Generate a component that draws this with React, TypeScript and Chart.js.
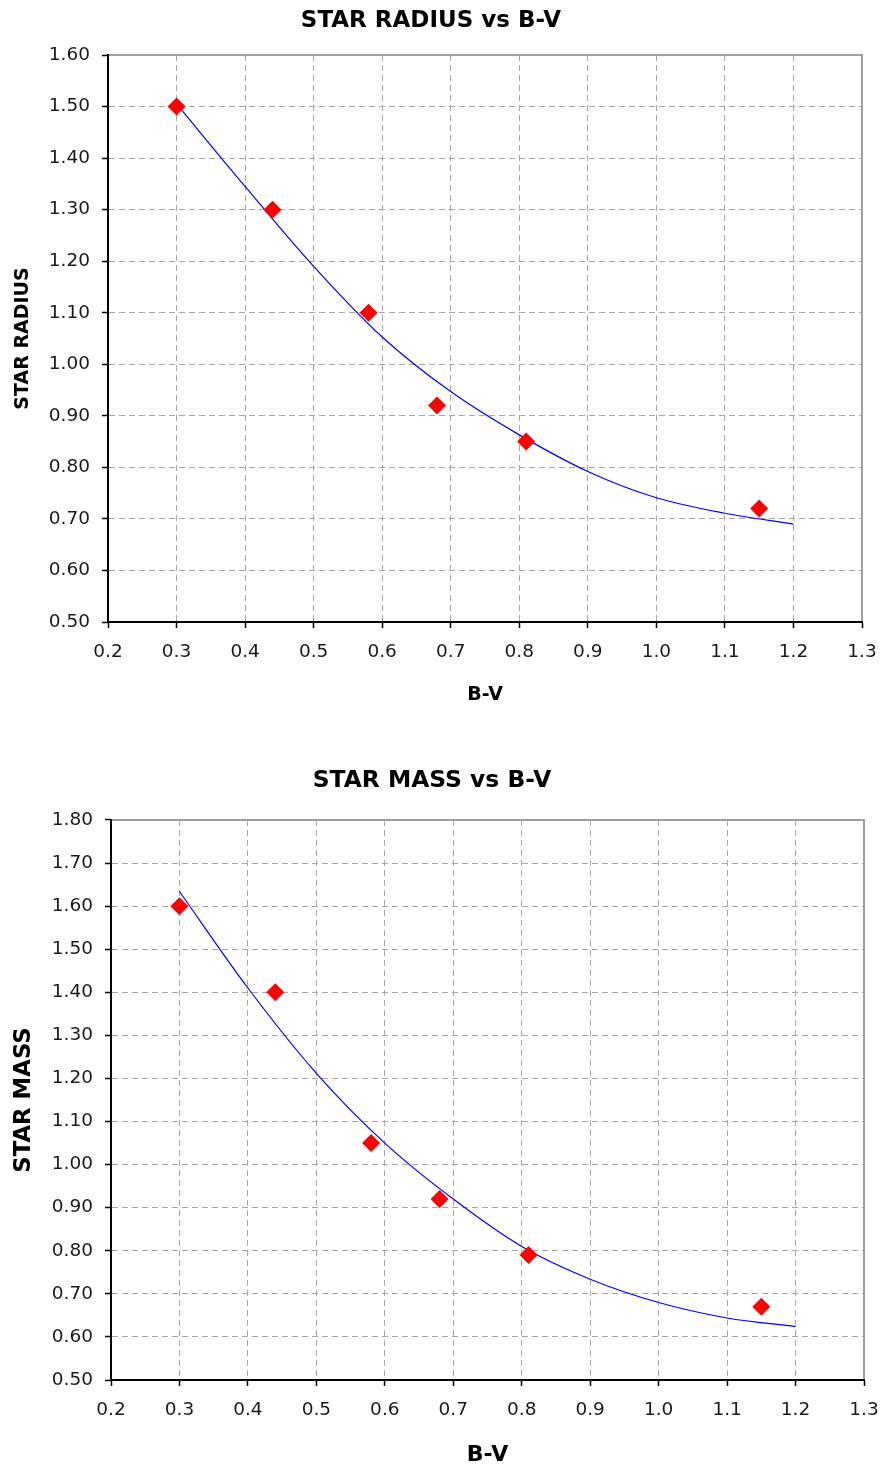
import React, { useEffect, useRef } from "react";
import { Chart, registerables } from "chart.js";

Chart.register(...registerables);

// ---- data ----
const X_TICKS = [0.2, 0.3, 0.4, 0.5, 0.6, 0.7, 0.8, 0.9, 1.0, 1.1, 1.2, 1.3];
const RADIUS_Y_TICKS = [0.5, 0.6, 0.7, 0.8, 0.9, 1.0, 1.1, 1.2, 1.3, 1.4, 1.5, 1.6];
const MASS_Y_TICKS = [0.5, 0.6, 0.7, 0.8, 0.9, 1.0, 1.1, 1.2, 1.3, 1.4, 1.5, 1.6, 1.7, 1.8];

const BV_RADIUS = [0.3, 0.44, 0.58, 0.68, 0.81, 1.15];
const RADIUS = [1.5, 1.3, 1.1, 0.92, 0.85, 0.72];

const BV_MASS = [0.3, 0.44, 0.58, 0.68, 0.81, 1.15];
const MASS = [1.6, 1.4, 1.05, 0.92, 0.79, 0.67];

const TREND_X = [0.3, 0.4, 0.5, 0.6, 0.7, 0.8, 0.9, 1.0, 1.1, 1.2];
const RADIUS_TREND = [1.505, 1.345, 1.19, 1.053, 0.947, 0.863, 0.792, 0.741, 0.711, 0.69];
const MASS_TREND = [1.634, 1.41, 1.212, 1.05, 0.92, 0.81, 0.734, 0.68, 0.644, 0.624];

const FONT = "'DejaVu Sans', Verdana, sans-serif";

const framePlugin = {
  id: "frame",
  beforeDatasetsDraw(chart: any) {
    const { ctx, chartArea } = chart;
    const { left, top, right, bottom } = chartArea;
    ctx.save();
    ctx.strokeStyle = "#a0a0a0";
    ctx.lineWidth = 2;
    ctx.beginPath();
    ctx.moveTo(left + 1, top);
    ctx.lineTo(right, top);
    ctx.lineTo(right, bottom - 1);
    ctx.stroke();
    ctx.restore();
  },
};

interface Cfg {
  title: string;
  titleSize: number;
  titlePadTop: number;
  titlePadBottom: number;
  yTitle: string;
  yTitleSize: number;
  yTitlePad: number;
  xTitleSize: number;
  xTitlePad: number;
  yTicks: number[];
  xs: number[];
  ys: number[];
  trend: number[];
  yWidth: number;
  xHeight: number;
  padRight: number;
}

function buildChart(canvas: HTMLCanvasElement, c: Cfg) {
  const grid = {
    color: "#a8a8a8",
    lineWidth: 1,
    tickColor: "#000",
    tickLength: 6,
    tickWidth: 1.5,
    tickBorderDash: [],
  };
  return new Chart(canvas, {
    type: "scatter",
    data: {
      datasets: [
        {
          label: "data",
          data: c.xs.map((x, i) => ({ x, y: c.ys[i] })),
          pointStyle: "rectRot",
          pointRadius: 9,
          pointBackgroundColor: "#ff0000",
          pointBorderColor: "#ff0000",
          pointBorderWidth: 0,
          showLine: false,
        },
        {
          label: "trend",
          data: TREND_X.map((x, i) => ({ x, y: c.trend[i] })),
          showLine: true,
          borderColor: "#0000ff",
          borderWidth: 1.2,
          pointRadius: 0,
          tension: 0.4,
          cubicInterpolationMode: "monotone",
        },
      ],
    },
    options: {
      animation: false,
      responsive: false,
      layout: { padding: { left: 0, right: c.padRight, top: 0, bottom: 0 } },
      plugins: {
        legend: { display: false },
        tooltip: { enabled: false },
        title: {
          display: true,
          text: c.title,
          color: "#000",
          font: { family: FONT, size: c.titleSize, weight: "bold" },
          padding: { top: c.titlePadTop, bottom: c.titlePadBottom },
        },
      },
      scales: {
        x: {
          type: "linear",
          min: 0.2,
          max: 1.3,
          afterBuildTicks: (s: any) => {
            s.ticks = X_TICKS.map((v) => ({ value: v }));
          },
          afterFit: (s: any) => {
            s.height = c.xHeight;
            s.paddingRight = 0;
            s.paddingLeft = 0;
          },
          ticks: {
            color: "#1a1a1a",
            font: { family: FONT, size: 18.5 },
            padding: 13,
            maxRotation: 0,
            autoSkip: false,
            callback: (v: any) => Number(v).toFixed(1),
          },
          grid,
          border: { display: true, color: "#000", width: 2, dash: [6, 4] },
          title: {
            display: true,
            text: "B-V",
            color: "#000",
            font: { family: FONT, size: c.xTitleSize, weight: "bold" },
            padding: { top: 0, bottom: c.xTitlePad },
          },
        },
        y: {
          type: "linear",
          min: c.yTicks[0],
          max: c.yTicks[c.yTicks.length - 1],
          afterBuildTicks: (s: any) => {
            s.ticks = c.yTicks.map((v) => ({ value: v }));
          },
          afterFit: (s: any) => {
            s.width = c.yWidth;
          },
          ticks: {
            color: "#1a1a1a",
            font: { family: FONT, size: 18.5 },
            padding: 12,
            autoSkip: false,
            callback: (v: any) => Number(v).toFixed(2),
          },
          grid,
          border: { display: true, color: "#000", width: 2, dash: [6, 4] },
          title: {
            display: true,
            text: c.yTitle,
            color: "#000",
            font: { family: FONT, size: c.yTitleSize, weight: "bold" },
            padding: { top: c.yTitlePad, bottom: 0 },
          },
        },
      },
    },
    plugins: [framePlugin],
  } as any);
}

function ChartCanvas({ cfg, width, height, top }: { cfg: Cfg; width: number; height: number; top: number }) {
  const ref = useRef<HTMLCanvasElement>(null);
  useEffect(() => {
    if (!ref.current) return;
    const ch = buildChart(ref.current, cfg);
    return () => ch.destroy();
  }, []);
  return (
    <canvas
      ref={ref}
      width={width}
      height={height}
      style={{ position: "absolute", left: 0, top, width, height }}
    />
  );
}

const radiusCfg: Cfg = {
  title: "STAR RADIUS vs B-V",
  titleSize: 23,
  titlePadTop: 7.2,
  titlePadBottom: 20.2,
  yTitle: "STAR RADIUS",
  yTitleSize: 19,
  yTitlePad: 12,
  xTitleSize: 19,
  xTitlePad: 13.6,
  yTicks: RADIUS_Y_TICKS,
  xs: BV_RADIUS,
  ys: RADIUS,
  trend: RADIUS_TREND,
  yWidth: 108,
  xHeight: 98,
  padRight: 21,
};

const massCfg: Cfg = {
  title: "STAR MASS vs B-V",
  titleSize: 23.4,
  titlePadTop: 46.5,
  titlePadBottom: 25.4,
  yTitle: "STAR MASS",
  yTitleSize: 22.8,
  yTitlePad: 10.3,
  xTitleSize: 22,
  xTitlePad: 2.8,
  yTicks: MASS_Y_TICKS,
  xs: BV_MASS,
  ys: MASS,
  trend: MASS_TREND,
  yWidth: 111,
  xHeight: 91,
  padRight: 19,
};

export default function App() {
  return (
    <div style={{ position: "absolute", left: 0, top: 0, width: 883, height: 1471, background: "#fff" }}>
      <ChartCanvas cfg={radiusCfg} width={883} height={720} top={0} />
      <ChartCanvas cfg={massCfg} width={883} height={751} top={720} />
    </div>
  );
}
